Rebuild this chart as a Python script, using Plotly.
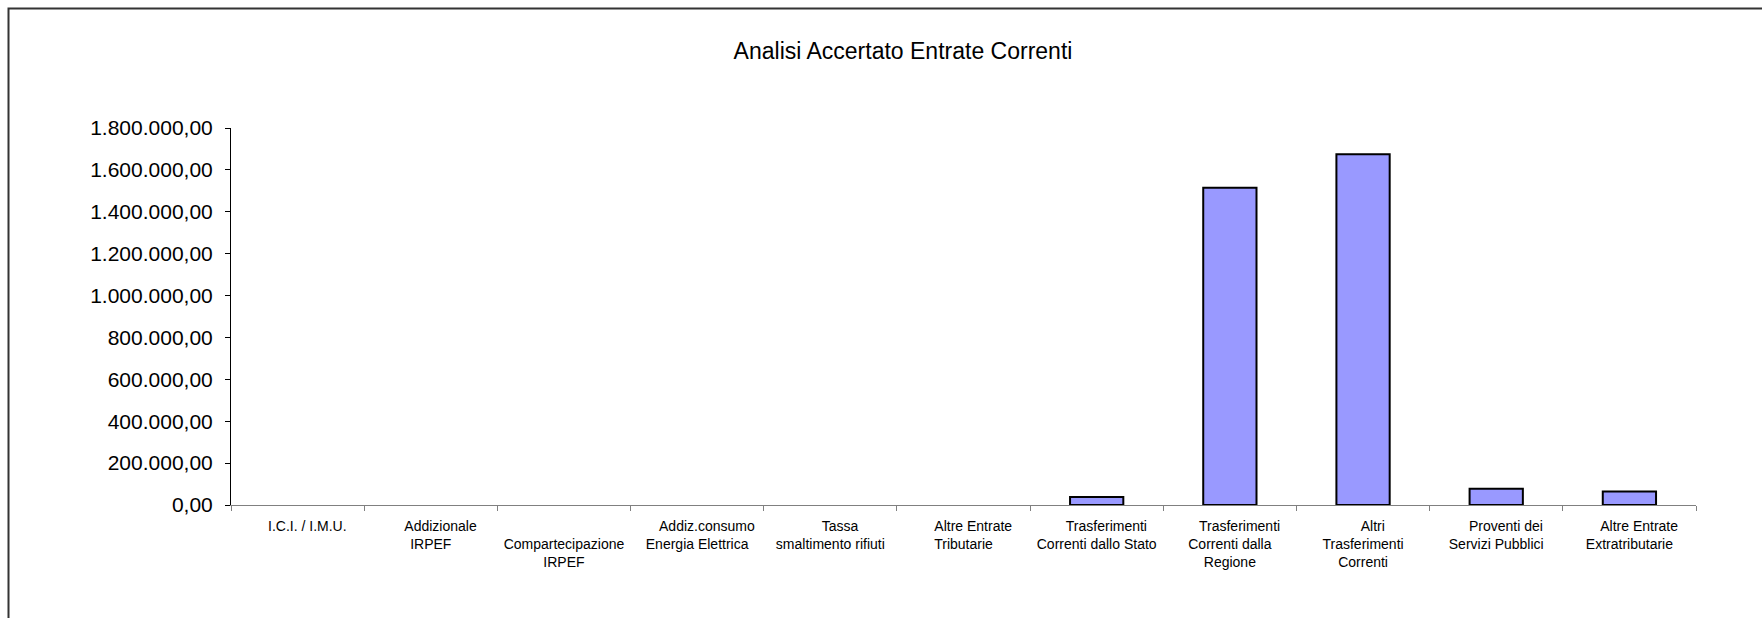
import plotly.graph_objects as go

# Categorie delle entrate correnti e importi accertati
categorie = [
    "I.C.I. / I.M.U.",
    "Addizionale IRPEF",
    "Compartecipazione IRPEF",
    "Addiz.consumo Energia Elettrica",
    "Tassa smaltimento rifiuti",
    "Altre Entrate Tributarie",
    "Trasferimenti Correnti dallo Stato",
    "Trasferimenti Correnti dalla Regione",
    "Altri Trasferimenti Correnti",
    "Proventi dei Servizi Pubblici",
    "Altre Entrate Extratributarie",
]
accertato = [0, 0, 0, 0, 0, 0, 38000, 1515000, 1675000, 78000, 64000]

# Etichette dell'asse delle categorie, spezzate su più righe
pad = "\u00a0" * 5
etichette_x = [
    pad + "I.C.I. / I.M.U.",
    pad + "Addizionale<br>IRPEF",
    "\u00a0<br>Compartecipazione<br>IRPEF",
    pad + "Addiz.consumo<br>Energia Elettrica",
    pad + "Tassa<br>smaltimento rifiuti",
    pad + "Altre Entrate<br>Tributarie",
    pad + "Trasferimenti<br>Correnti dallo Stato",
    pad + "Trasferimenti<br>Correnti dalla<br>Regione",
    pad + "Altri<br>Trasferimenti<br>Correnti",
    pad + "Proventi dei<br>Servizi Pubblici",
    pad + "Altre Entrate<br>Extratributarie",
]

# Scala dell'asse dei valori
valori_y = [0, 200000, 400000, 600000, 800000, 1000000,
            1200000, 1400000, 1600000, 1800000]
etichette_y = ["0,00", "200.000,00", "400.000,00", "600.000,00", "800.000,00",
               "1.000.000,00", "1.200.000,00", "1.400.000,00", "1.600.000,00",
               "1.800.000,00"]

W, H = 1762, 618
L, R, T, B = 231, 66, 128, 113
FONT = "Liberation Sans, Arial, sans-serif"

# le barre a valore nullo non mostrano il bordo
bordi = [2 if v > 0 else 0 for v in accertato]

fig = go.Figure(
    go.Bar(
        x=categorie,
        y=accertato,
        marker=dict(color="#9999FF", line=dict(color="#000000", width=bordi)),
        hoverinfo="x+y",
    )
)

# Cornice del grafico
pw, ph = W - L - R, H - T - B
fig.add_shape(
    type="rect", xref="paper", yref="paper",
    x0=(8.5 - L) / pw, x1=(W + 40 - L) / pw,
    y0=-(H + 40 - (H - B)) / ph, y1=((H - B) - 8.5) / ph,
    line=dict(color="#333333", width=2), fillcolor="rgba(0,0,0,0)",
    layer="below",
)

fig.update_layout(
    width=W, height=H,
    margin=dict(l=L, r=R, t=T, b=B, pad=0),
    paper_bgcolor="white", plot_bgcolor="white",
    font=dict(family=FONT, color="black"),
    showlegend=False,
    bargap=0.6,
    title=dict(
        text="Analisi Accertato Entrate Correnti",
        font=dict(family=FONT, size=23, color="black"),
        x=903 / W, xanchor="center", xref="container",
        y=1 - 51 / H, yanchor="middle", yref="container",
    ),
    xaxis=dict(
        type="category",
        tickvals=categorie, ticktext=etichette_x,
        tickson="boundaries", ticks="outside", ticklen=5,
        tickcolor="#808080", tickwidth=1,
        showline=True, linecolor="#808080", linewidth=1,
        showgrid=False, zeroline=False,
        tickfont=dict(family=FONT, size=14, color="black"),
        tickangle=0,
        ticklabelstandoff=8,
    ),
    yaxis=dict(
        range=[0, 1800000],
        tickvals=valori_y, ticktext=etichette_y,
        ticks="outside", ticklen=5, tickcolor="black", tickwidth=1,
        showline=True, linecolor="black", linewidth=1,
        showgrid=False, zeroline=False,
        tickfont=dict(family=FONT, size=21, color="black"),
        ticklabelstandoff=8,
    ),
)

fig.write_html("out.html")
